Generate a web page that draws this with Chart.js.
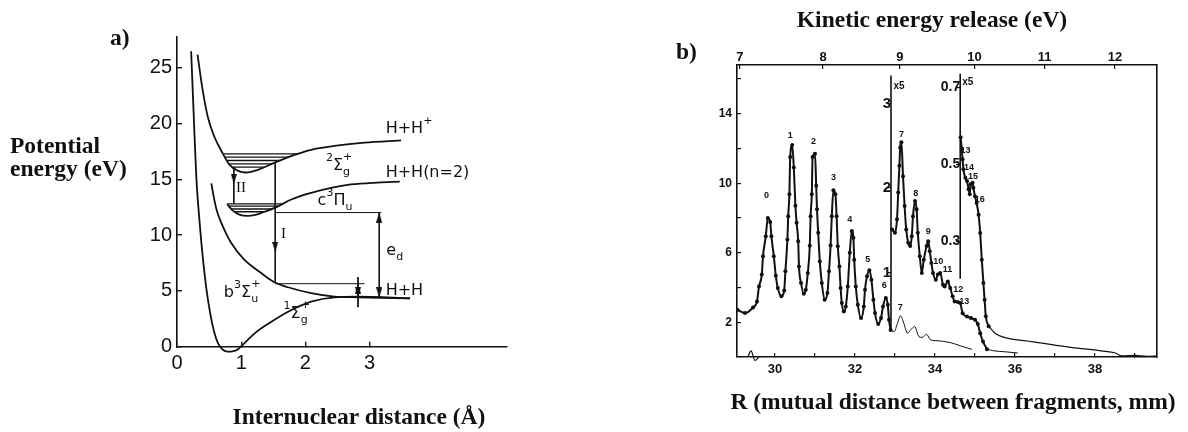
<!DOCTYPE html>
<html>
<head>
<meta charset="utf-8">
<script src="https://cdn.jsdelivr.net/npm/chart.js@4.4.1/dist/chart.umd.min.js"></script>
<style>
  body { margin: 0; background: #fff; }
  #wrap { position: relative; width: 1188px; height: 432px; overflow: hidden; background: #fff; }
  canvas { position: absolute; top: 0; }
  .lbl { position: absolute; font: bold 23.5px "Liberation Serif", "Times New Roman", serif; line-height: 23px; color: #111; white-space: nowrap; }
  .mid { transform: translateX(-50%); }
</style>
</head>
<body>
<div id="wrap">
  <canvas id="chartA" width="560" height="432" style="left:0"></canvas>
  <canvas id="chartB" width="588" height="432" style="left:600px"></canvas>
  <div class="lbl" style="left:110px; top:26px">a)</div>
  <div class="lbl" style="left:10px; top:134px">Potential<br>energy (eV)</div>
  <div class="lbl mid" style="left:359px; top:405px">Internuclear distance (Å)</div>
  <div class="lbl" style="left:676px; top:40px">b)</div>
  <div class="lbl mid" style="left:932px; top:8px">Kinetic energy release (eV)</div>
  <div class="lbl mid" style="left:953px; top:390px">R (mutual distance between fragments, mm)</div>
</div>
<script>
// ---------- DATA : panel a (potential energy, eV, vs internuclear distance, Å) ----------
const xaTicks = [0, 1, 2, 3];
const yaTicks = [0, 5, 10, 15, 20, 25];

// X 1Σg+ ground state
const gsR = [0.22, 0.235, 0.26, 0.30, 0.35, 0.40, 0.46, 0.52, 0.58, 0.64, 0.71, 0.79, 0.88, 0.95, 1.02, 1.21, 1.47, 1.73, 2.09, 2.45, 2.82, 3.63];
const gsE = [26.5, 24.4, 20.8, 15.3, 11.3, 8.1, 5.1, 2.9, 1.3, 0.3, -0.25, -0.45, -0.4, -0.23, 0.15, 1.2, 2.24, 3.14, 4.04, 4.43, 4.49, 4.34];
// b 3Σu+ repulsive
const bsR = [0.535, 0.57, 0.615, 0.69, 0.77, 0.84, 1.04, 1.30, 1.51, 1.73, 2.09, 2.45, 2.82, 3.63];
const bsE = [14.65, 13.5, 12.3, 11.1, 10.1, 9.35, 7.85, 6.65, 5.8, 5.33, 4.8, 4.49, 4.43, 4.34];
// 2Σg+ ion
const ionR = [0.32, 0.40, 0.48, 0.58, 0.71, 0.82, 0.95, 1.08, 1.26, 1.52, 1.83, 2.09, 2.45, 2.92, 3.49];
const ionE = [26.2, 23.0, 20.6, 18.85, 17.36, 16.3, 15.77, 15.62, 15.86, 16.5, 17.2, 17.66, 18.0, 18.3, 18.5];
// c 3Πu
const cpR = [0.78, 0.87, 0.97, 1.10, 1.22, 1.36, 1.54, 1.78, 2.09, 2.40, 2.71, 3.13, 3.47];
const cpE = [12.8, 12.2, 11.85, 11.73, 11.82, 12.1, 12.5, 13.2, 13.8, 14.25, 14.55, 14.72, 14.8];

// vibrational levels drawn inside the wells
const ionLevels = [16.1, 16.4, 16.7, 17.0, 17.3];
const cpLevels = [12.1, 12.35, 12.6, 12.8];

// transition / energy guide lines [x1, y1, x2, y2]
const guideSegs = [
    [0.885, 16.1, 0.885, 12.8],
    [1.53, 16.52, 1.53, 5.78],
    [1.53, 12.03, 3.18, 12.03],
    [3.15, 12.03, 3.15, 4.42],
    [1.53, 5.65, 2.92, 5.65],
    [2.82, 6.25, 2.82, 3.55]
];
const arrowsDown = [[0.885, 14.6], [1.53, 8.5], [3.15, 4.42], [2.82, 4.45]];
const arrowsUp = [[3.15, 12.03], [2.82, 5.65]];

const stateText = [
    { at: [3.25, 19.2], parts: [['H+H'], ['+', 'sup']] },
    { at: [2.32, 15.86], parts: [['2', 'sup'], ['Σ'], ['+|g', 'both']] },
    { at: [3.25, 15.23], parts: [['H+H(n=2)']] },
    { at: [2.19, 12.72], parts: [['c'], ['3', 'sup'], ['Π'], ['u', 'sub']] },
    { at: [3.26, 8.23], parts: [['e'], ['d', 'sub']] },
    { at: [3.25, 4.64], parts: [['H+H']] },
    { at: [0.73, 4.49], parts: [['b'], ['3', 'sup'], ['Σ'], ['+|u', 'both']] },
    { at: [1.66, 2.55], parts: [['1', 'sup'], ['Σ'], ['+|g', 'both']] },
    { at: [0.92, 13.9], parts: [['II']], serif: true },
    { at: [1.62, 9.76], parts: [['I']], serif: true }
];

// ---------- DATA : panel b (yield vs R, mm; top axis kinetic energy release) ----------
const rTicks = [30, 31, 32, 33, 34, 35, 36, 37, 38, 39];
const rTickLabels = [30, 32, 34, 36, 38];
const keLabels = [7, 8, 9, 10, 11, 12];
const keR = [29.12, 31.2, 33.12, 34.99, 36.74, 38.5];
const vTicks = [2, 4, 6, 8, 10, 12, 14, 16];
const vTickLabels = [2, 6, 10, 14];

// main spectrum, peaks 0..6
const mainR = [29.06, 29.25, 29.45, 29.55, 29.60, 29.67, 29.70, 29.77, 29.82, 29.88, 29.91, 29.97, 30.02, 30.07, 30.16, 30.23, 30.26, 30.31, 30.33, 30.36, 30.38, 30.43, 30.47, 30.51, 30.54, 30.58, 30.60, 30.65, 30.72, 30.77, 30.82, 30.87, 30.89, 30.92, 30.94, 31.00, 31.03, 31.05, 31.08, 31.12, 31.17, 31.24, 31.31, 31.35, 31.39, 31.42, 31.46, 31.51, 31.54, 31.57, 31.61, 31.64, 31.67, 31.72, 31.77, 31.82, 31.87, 31.92, 31.96, 31.98, 32.02, 32.07, 32.15, 32.22, 32.25, 32.30, 32.36, 32.41, 32.46, 32.50, 32.58, 32.65, 32.70, 32.77, 32.82, 32.85, 32.89];
const mainV = [2.72, 2.53, 2.85, 3.2, 4.06, 4.74, 5.8, 6.95, 8.0, 7.76, 6.95, 5.8, 4.68, 3.97, 3.49, 3.83, 4.93, 6.76, 8.1, 9.36, 11.5, 12.2, 10.9, 8.7, 7.73, 6.66, 5.2, 4.26, 3.64, 3.87, 4.84, 6.4, 8.1, 9.36, 11.5, 11.7, 9.85, 8.5, 7.15, 5.5, 4.26, 3.3, 3.68, 4.93, 6.42, 8.1, 9.6, 9.36, 8.1, 6.37, 5.2, 3.97, 3.1, 2.62, 2.9, 4.06, 6.0, 7.25, 6.86, 5.6, 4.06, 3.0, 2.24, 2.9, 3.87, 4.64, 4.99, 4.45, 3.3, 2.53, 1.9, 2.24, 2.9, 3.39, 3.0, 2.14, 1.56];
// x1 continuation beyond peak 6
const x1R = [32.89, 32.93, 32.98, 33.06, 33.14, 33.22, 33.31, 33.39, 33.49, 33.60, 33.68, 33.79, 33.89, 34.05, 34.22, 34.38, 34.64, 34.92];
const x1V = [1.56, 1.5, 1.46, 1.94, 2.37, 1.94, 1.37, 1.56, 1.75, 1.17, 1.13, 1.3, 0.98, 0.94, 0.89, 0.83, 0.64, 0.44];
// x5 magnified part, peaks 7..13
const x5R = [32.93, 33.00, 33.05, 33.08, 33.11, 33.13, 33.16, 33.20, 33.24, 33.28, 33.33, 33.38, 33.42, 33.45, 33.50, 33.54, 33.57, 33.62, 33.67, 33.72, 33.79, 33.83, 33.87, 33.91, 33.95, 34.02, 34.07, 34.13, 34.20, 34.24, 34.32, 34.38, 34.44, 34.49, 34.57, 34.63, 34.69, 34.80, 34.90, 35.00, 35.07, 35.13, 35.20, 35.30];
const x5V = [7.34, 7.15, 7.92, 9.46, 11.0, 12.06, 12.35, 10.4, 8.69, 7.34, 6.57, 6.38, 6.95, 8.1, 8.98, 8.5, 7.15, 5.8, 4.84, 5.6, 6.38, 6.66, 6.09, 5.41, 4.84, 4.45, 4.74, 4.84, 4.16, 4.06, 4.35, 3.97, 3.49, 3.2, 3.16, 3.1, 2.52, 2.33, 2.24, 2.14, 1.9, 1.37, 0.89, 0.45];
const x5TailR = [35.30, 35.46, 35.75, 36.07];
const x5TailV = [0.45, 0.36, 0.3, 0.23];
// second magnified part, peaks 13..16
const x25R = [34.64, 34.67, 34.69, 34.71, 34.76, 34.80, 34.84, 34.87, 34.89, 34.94, 34.96, 35.00, 35.04, 35.09, 35.13, 35.17, 35.21, 35.24, 35.27, 35.34];
const x25V = [12.64, 11.96, 11.38, 10.8, 10.32, 10.13, 9.65, 9.36, 9.94, 10.03, 9.74, 9.25, 8.86, 8.19, 7.13, 5.6, 4.26, 3.3, 2.34, 1.77];
const x25TailR = [35.34, 35.50, 35.71, 36.46, 37.31, 38.15, 38.51, 38.67, 39.0, 39.3, 39.55];
const x25TailV = [1.77, 1.37, 1.14, 0.87, 0.58, 0.35, 0.23, 0.06, 0.09, 0.04, 0.06];
// axis break mark
const breakR = [29.32, 29.40, 29.50, 29.60];
const breakV = [0, 0.35, -0.2, 0];

// inset scales (x5 and second magnification)
const inset1R = 32.9, inset1Span = [1.6, 16.2], inset1Scale = 4.86, inset1Ticks = [1, 2, 3];
const inset2R = 34.63, inset2Span = [4.5, 16.3], inset2Scale = 22.15, inset2Ticks = [0.3, 0.5, 0.7];
const insetTags = [['x5', 32.96, 15.6], ['x5', 34.68, 15.8]];

const peakNames = ['0', '1', '2', '3', '4', '5', '6', '7', '7', '8', '9', '10', '11', '12', '13', '13', '14', '15', '16'];
const peakR = [29.79, 30.38, 30.96, 31.46, 31.87, 32.32, 32.73, 33.13, 33.16, 33.52, 33.83, 34.08, 34.31, 34.58, 34.73, 34.76, 34.85, 34.95, 35.12];
const peakV = [9.3, 12.75, 12.4, 10.3, 7.9, 5.6, 4.1, 2.85, 12.8, 9.4, 7.24, 5.47, 5.03, 3.88, 3.18, 11.9, 10.93, 10.36, 9.08];

// ---------- HELPERS ----------
const ink = '#111';
const sans = '"Liberation Sans", Arial, sans-serif';
const pts = (xs, ys) => xs.map((x, i) => ({ x, y: ys[i] }));

function crossings(xs, ys, level) {
    const iMin = ys.indexOf(Math.min(...ys));
    let left = xs[0], right = xs[xs.length - 1];
    for (let i = iMin; i > 0; i--) {
        if (ys[i - 1] >= level) { left = xs[i] + (xs[i - 1] - xs[i]) * (level - ys[i]) / (ys[i - 1] - ys[i]); break; }
    }
    for (let i = iMin; i < xs.length - 1; i++) {
        if (ys[i + 1] >= level) { right = xs[i] + (xs[i + 1] - xs[i]) * (level - ys[i]) / (ys[i + 1] - ys[i]); break; }
    }
    return [left, right];
}

// small arrow head, tip sits at the centre of the image
function arrowHead(w, h) {
    const c = document.createElement('canvas');
    c.width = w; c.height = h * 2;
    const g = c.getContext('2d');
    g.fillStyle = ink;
    g.beginPath(); g.moveTo(0, 0); g.lineTo(w, 0); g.lineTo(w / 2, h); g.closePath(); g.fill();
    return c;
}

function drawRich(ctx, px, py, parts, size, family) {
    let cx = px;
    const small = Math.round(size * 0.68);
    parts.forEach(([t, kind]) => {
        if (kind === 'both') {
            const [up, down] = t.split('|');
            ctx.font = `${small}px ${family}`;
            ctx.fillText(up, cx, py - size * 0.62);
            ctx.fillText(down, cx, py + size * 0.32);
            cx += Math.max(ctx.measureText(up).width, ctx.measureText(down).width);
        } else if (kind === 'sup' || kind === 'sub') {
            ctx.font = `${small}px ${family}`;
            ctx.fillText(t, cx, kind === 'sup' ? py - size * 0.55 : py + size * 0.3);
            cx += ctx.measureText(t).width;
        } else {
            ctx.font = `${size}px ${family}`;
            ctx.fillText(t, cx, py);
            cx += ctx.measureText(t).width;
        }
    });
}

// ---------- PANEL A ----------
const curveA = { borderColor: ink, borderWidth: 1.8, pointRadius: 0, cubicInterpolationMode: 'monotone', fill: false };
const thinA = { borderColor: ink, borderWidth: 1, pointRadius: 0, tension: 0, fill: false };

const levelSets = [];
ionLevels.forEach(l => { const [a, b] = crossings(ionR, ionE, l); levelSets.push({ ...thinA, borderWidth: 1.3, data: [{ x: a, y: l }, { x: b, y: l }] }); });
cpLevels.forEach(l => { const [a, b] = crossings(cpR, cpE, l); levelSets.push({ ...thinA, borderWidth: 1.3, data: [{ x: a, y: l }, { x: b, y: l }] }); });

const headDown = arrowHead(6, 10);

const stateLabels = {
    id: 'stateLabels',
    afterDatasetsDraw(chart) {
        const { ctx, scales: { x, y } } = chart;
        ctx.save();
        ctx.fillStyle = ink;
        ctx.textAlign = 'left';
        ctx.textBaseline = 'alphabetic';
        stateText.forEach(l => {
            const fam = l.serif ? '"Liberation Serif", serif' : '"DejaVu Sans", sans-serif';
            drawRich(ctx, x.getPixelForValue(l.at[0]), y.getPixelForValue(l.at[1]), l.parts, l.serif ? 15 : 16, fam);
        });
        ctx.restore();
    }
};

new Chart(document.getElementById('chartA'), {
    type: 'line',
    data: {
        datasets: [
            { ...curveA, data: pts(gsR, gsE), clip: false },
            { ...curveA, data: pts(bsR, bsE) },
            { ...curveA, data: pts(ionR, ionE) },
            { ...curveA, data: pts(cpR, cpE) },
            ...levelSets,
            ...guideSegs.map(s => ({ ...thinA, data: [{ x: s[0], y: s[1] }, { x: s[2], y: s[3] }] })),
            { data: arrowsDown.map(a => ({ x: a[0], y: a[1] })), showLine: false, pointStyle: headDown, pointRadius: 5, pointRotation: 0 },
            { data: arrowsUp.map(a => ({ x: a[0], y: a[1] })), showLine: false, pointStyle: headDown, pointRadius: 5, pointRotation: 180 }
        ]
    },
    options: {
        responsive: false, animation: false, devicePixelRatio: 1,
        layout: { padding: { left: 137, right: 53, top: 36.7, bottom: 55.3 }, autoPadding: false },
        plugins: { legend: { display: false }, tooltip: { enabled: false } },
        scales: {
            x: {
                type: 'linear', min: 0, max: 5.14,
                afterFit: s => { s.height = 30; },
                afterBuildTicks: s => { s.ticks = xaTicks.map(v => ({ value: v })); },
                ticks: { autoSkip: false, maxRotation: 0, padding: 10, color: ink, font: { family: sans, size: 20 } },
                grid: { drawOnChartArea: false, tickLength: -5, color: ink, lineWidth: 1.4 },
                border: { color: ink, width: 1.6 }
            },
            y: {
                type: 'linear', min: 0, max: 27.8,
                afterFit: s => { s.width = 40; },
                afterBuildTicks: s => { s.ticks = yaTicks.map(v => ({ value: v })); },
                ticks: { autoSkip: false, padding: 10, color: ink, font: { family: sans, size: 20 } },
                grid: { drawOnChartArea: false, tickLength: -5, color: ink, lineWidth: 1.4 },
                border: { color: ink, width: 1.6 }
            }
        }
    },
    plugins: [stateLabels]
});

// ---------- PANEL B ----------
const rMin = 29.05, rMax = 39.55, vMax = 16.8;
const thick = { borderColor: ink, borderWidth: 2, pointRadius: 2, pointBackgroundColor: ink, pointBorderWidth: 0, cubicInterpolationMode: 'monotone', fill: false };
const thin = { borderColor: ink, borderWidth: 1, pointRadius: 0, cubicInterpolationMode: 'monotone', fill: false };
const rule = { borderColor: ink, borderWidth: 1.6, pointRadius: 0, tension: 0, fill: false };
const tickFont = { family: sans, size: 13, weight: 'bold' };
const frameGrid = { drawOnChartArea: false, tickLength: -4, color: ink, lineWidth: 1.2 };
const frameBorder = { color: ink, width: 1.6 };

const peakLabels = {
    id: 'peakLabels',
    afterDatasetsDraw(chart) {
        const { ctx, scales: { x, y } } = chart;
        ctx.save();
        ctx.fillStyle = ink;
        ctx.textBaseline = 'middle';
        ctx.textAlign = 'center';
        ctx.font = `bold 9px ${sans}`;
        peakNames.forEach((n, i) => ctx.fillText(n, x.getPixelForValue(peakR[i]), y.getPixelForValue(peakV[i])));
        ctx.textAlign = 'left';
        ctx.font = `bold 10px ${sans}`;
        insetTags.forEach(t => ctx.fillText(t[0], x.getPixelForValue(t[1]), y.getPixelForValue(t[2])));
        ctx.restore();
    }
};

new Chart(document.getElementById('chartB'), {
    type: 'line',
    data: {
        datasets: [
            { ...thick, data: pts(mainR, mainV) },
            { ...thin, data: pts(x1R, x1V) },
            { ...thick, data: pts(x5R, x5V) },
            { ...thin, data: pts(x5TailR, x5TailV) },
            { ...thick, data: pts(x25R, x25V) },
            { ...thin, borderWidth: 1.2, data: pts(x25TailR, x25TailV), clip: false },
            { ...thin, borderWidth: 1.2, data: pts(breakR, breakV), clip: false },
            { ...rule, data: inset1Span.map(v => ({ x: inset1R, y: v })) },
            { ...rule, data: inset2Span.map(v => ({ x: inset2R, y: v })) }
        ]
    },
    options: {
        responsive: false, animation: false, devicePixelRatio: 1,
        layout: { padding: { left: 97, right: 31, top: 35, bottom: 45 }, autoPadding: false },
        plugins: { legend: { display: false }, tooltip: { enabled: false } },
        scales: {
            x: {
                type: 'linear', position: 'bottom', min: rMin, max: rMax,
                afterFit: s => { s.height = 30; },
                afterBuildTicks: s => { s.ticks = rTicks.map(v => ({ value: v })); },
                ticks: { autoSkip: false, maxRotation: 0, padding: 9, color: ink, font: tickFont, callback: v => rTickLabels.includes(v) ? String(v) : '' },
                grid: frameGrid, border: frameBorder
            },
            x2: {
                type: 'linear', position: 'top', min: rMin, max: rMax,
                afterFit: s => { s.height = 30; },
                afterBuildTicks: s => { s.ticks = keR.map(v => ({ value: v })); },
                ticks: { autoSkip: false, maxRotation: 0, padding: 4, color: ink, font: tickFont, callback: (v, i) => String(keLabels[i]) },
                grid: frameGrid, border: frameBorder
            },
            y: {
                type: 'linear', position: 'left', min: 0, max: vMax,
                afterFit: s => { s.width = 40; },
                afterBuildTicks: s => { s.ticks = vTicks.map(v => ({ value: v })); },
                ticks: { autoSkip: false, padding: 9, color: ink, font: { family: sans, size: 12, weight: 'bold' }, callback: v => vTickLabels.includes(v) ? String(v) : '' },
                grid: frameGrid, border: frameBorder
            },
            yR: {
                type: 'linear', position: 'right', min: 0, max: 1,
                afterFit: s => { s.width = 0; },
                ticks: { display: false }, grid: { display: false }, border: frameBorder
            },
            yI1: {
                type: 'linear', position: { x: inset1R }, min: 0, max: vMax / inset1Scale,
                afterFit: s => { s.width = 0; },
                afterBuildTicks: s => { s.ticks = inset1Ticks.map(v => ({ value: v })); },
                ticks: { autoSkip: false, padding: 2, color: ink, font: { family: sans, size: 15, weight: 'bold' } },
                grid: { drawOnChartArea: false, tickLength: 4, color: ink, lineWidth: 1.2 },
                border: { display: false }
            },
            yI2: {
                type: 'linear', position: { x: inset2R }, min: 0, max: vMax / inset2Scale,
                afterFit: s => { s.width = 0; },
                afterBuildTicks: s => { s.ticks = inset2Ticks.map(v => ({ value: v })); },
                ticks: { autoSkip: false, padding: 2, color: ink, font: { family: sans, size: 14, weight: 'bold' }, callback: v => String(v) },
                grid: { drawOnChartArea: false, tickLength: 4, color: ink, lineWidth: 1.2 },
                border: { display: false }
            }
        }
    },
    plugins: [peakLabels]
});
</script>
</body>
</html>
